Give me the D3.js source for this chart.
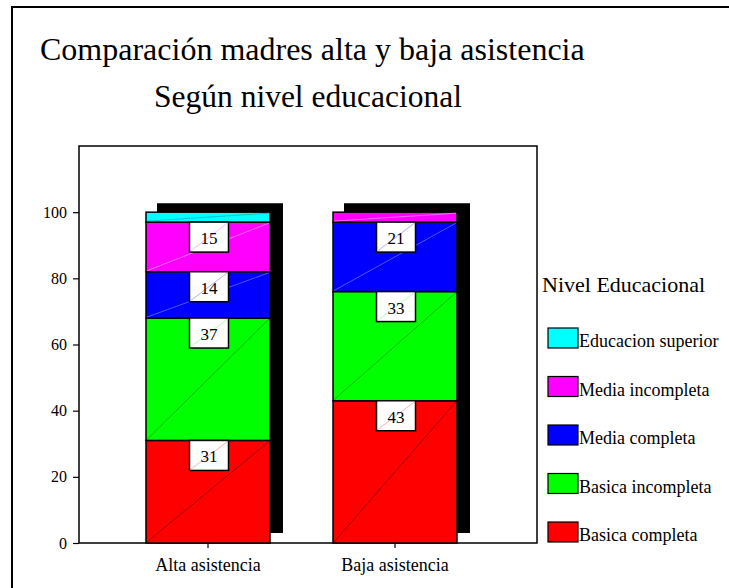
<!DOCTYPE html>
<html>
<head>
<meta charset="utf-8">
<script src="https://cdn.jsdelivr.net/npm/d3@7"></script>
<style>
  html, body { margin: 0; padding: 0; background: #fff; }
  svg { display: block; }
  svg text { font-family: "Liberation Serif", "Times New Roman", serif; fill: #000; }
</style>
</head>
<body>
<svg id="chart" width="729" height="588"></svg>
<script>
// Categories (bars) and education levels (stack order bottom to top)
const groups = ["Alta asistencia", "Baja asistencia"];
const levels = ["Basica completa", "Basica incompleta", "Media completa", "Media incompleta", "Educacion superior"];

// Percentages per level, one value per group
const basicaCompleta    = [31, 43];
const basicaIncompleta  = [37, 33];
const mediaCompleta     = [14, 21];
const mediaIncompleta   = [15, 3];
const educacionSuperior = [3, 0];

const yTicks = [0, 20, 40, 60, 80, 100];

const levelColors = ["#ff0000", "#00ff00", "#0000ff", "#ff00ff", "#00ffff"];
const diagColors  = ["rgba(90,0,0,0.8)", "rgba(0,90,0,0.6)", "rgba(170,170,255,0.7)", "rgba(255,190,255,0.8)", "rgba(0,120,120,0.6)"];

const seriesValues = [basicaCompleta, basicaIncompleta, mediaCompleta, mediaIncompleta, educacionSuperior];

// Build table rows for d3.stack
const rows = groups.map((g, i) => {
  const r = { group: g };
  levels.forEach((lv, j) => { r[lv] = seriesValues[j][i]; });
  return r;
});
const stacked = d3.stack().keys(levels)(rows);

const svg = d3.select("#chart");
const serif = '"Liberation Serif", "Times New Roman", serif';

// Outer frame
svg.append("rect")
  .attr("x", 12).attr("y", 7).attr("width", 800).attr("height", 800)
  .attr("fill", "none").attr("stroke", "#000").attr("stroke-width", 2);

// Titles
svg.append("text")
  .attr("x", 40).attr("y", 60)
  .attr("font-size", 32)
  .text("Comparación madres alta y baja asistencia");
svg.append("text")
  .attr("x", 154).attr("y", 107)
  .attr("font-size", 31.5)
  .text("Según nivel educacional");

// Plot area
const plot = { left: 79, top: 146, right: 537, bottom: 543 };

const y = d3.scaleLinear().domain([0, 120]).range([plot.bottom, plot.top]);
const x = d3.scaleBand().domain(groups).range([114.5, 488.5])
  .paddingInner(0.337).paddingOuter(0.1685);

// Plot frame
svg.append("rect")
  .attr("x", plot.left).attr("y", plot.top)
  .attr("width", plot.right - plot.left).attr("height", plot.bottom - plot.top)
  .attr("fill", "none").attr("stroke", "#000").attr("stroke-width", 1.5);

// Y axis
const yAxis = svg.append("g")
  .attr("transform", `translate(${plot.left},0)`)
  .call(d3.axisLeft(y).tickValues(yTicks).tickSize(6).tickPadding(6));
yAxis.attr("font-family", null);
yAxis.select(".domain").remove();
yAxis.selectAll("line").attr("stroke", "#000").attr("stroke-width", 1.2);
yAxis.selectAll("text")
  .style("font-family", serif)
  .style("font-size", "16px").attr("fill", "#000");

// X axis
const xAxis = svg.append("g")
  .attr("transform", `translate(0,${plot.bottom})`)
  .call(d3.axisBottom(x).tickSize(5).tickPadding(10));
xAxis.attr("font-family", null);
xAxis.select(".domain").remove();
xAxis.selectAll("line").attr("stroke", "#000").attr("stroke-width", 1.2);
xAxis.selectAll("text")
  .style("font-family", serif)
  .style("font-size", "18px").attr("fill", "#000");

// Drop shadows behind the stacked bars
const shDx = 13, shDyTop = -9, shDyBottom = -10;
svg.append("g").selectAll("path")
  .data(groups)
  .join("path")
  .attr("fill", "#000")
  .attr("d", g => {
    const i = groups.indexOf(g);
    const top = y(d3.sum(seriesValues, s => s[i]));
    const x0 = x(g), x1 = x(g) + x.bandwidth();
    return `M${x0 + shDx - 2},${top + shDyTop}L${x1 + shDx},${top + shDyTop}` +
           `L${x1 + shDx},${plot.bottom + shDyBottom}L${x1},${plot.bottom + shDyBottom}` +
           `L${x1},${top}L${x0 + shDx - 2},${top}Z`;
  });

// Stacked segments
const layers = svg.append("g").selectAll("g")
  .data(stacked)
  .join("g");

layers.each(function(layer, li) {
  const segs = layer.filter(d => d[1] - d[0] > 0);
  const g = d3.select(this);
  g.selectAll("rect")
    .data(segs)
    .join("rect")
    .attr("x", d => x(d.data.group))
    .attr("y", d => y(d[1]))
    .attr("width", x.bandwidth())
    .attr("height", d => y(d[0]) - y(d[1]))
    .attr("fill", levelColors[li])
    .attr("stroke", "#000")
    .attr("stroke-width", 1.5);
  g.selectAll("line")
    .data(segs)
    .join("line")
    .attr("x1", d => x(d.data.group) + 1)
    .attr("y1", d => y(d[0]) - 1)
    .attr("x2", d => x(d.data.group) + x.bandwidth() - 1)
    .attr("y2", d => y(d[1]) + 1)
    .attr("stroke", diagColors[li])
    .attr("stroke-width", 0.7);
});

// Value labels in white boxes at the top of each segment
const boxW = 39, boxH = 30;
const labelData = [];
stacked.forEach((layer, li) => {
  layer.forEach(d => {
    const v = d[1] - d[0];
    if (v >= 10) labelData.push({ group: d.data.group, top: d[1], value: v, li });
  });
});
const labels = svg.append("g").selectAll("g")
  .data(labelData)
  .join("g")
  .attr("transform", d => `translate(${x(d.group) + x.bandwidth() / 2},${y(d.top)})`);
labels.append("rect")
  .attr("x", -boxW / 2 + 1).attr("y", 0)
  .attr("width", boxW).attr("height", boxH)
  .attr("fill", "#fff").attr("stroke", "#000").attr("stroke-width", 1.5);
labels.append("line")
  .attr("x1", -boxW / 2 + 2).attr("y1", boxH - 1)
  .attr("x2", boxW / 2).attr("y2", 1)
  .attr("stroke", d => levelColors[d.li])
  .attr("stroke-opacity", 0.45)
  .attr("stroke-width", 0.7);
labels.append("text")
  .attr("x", 1).attr("y", 22)
  .attr("text-anchor", "middle")
  .attr("font-size", 17)
  .text(d => d.value);

// Legend
svg.append("text")
  .attr("x", 542).attr("y", 292)
  .attr("font-size", 22)
  .text("Nivel Educacional");

const legendOrder = levels.slice().reverse();
const legend = svg.append("g").selectAll("g")
  .data(legendOrder)
  .join("g")
  .attr("transform", (d, i) => `translate(548,${328 + i * 48.5})`);
legend.append("rect")
  .attr("width", 30).attr("height", 20)
  .attr("fill", d => levelColors[levels.indexOf(d)])
  .attr("stroke", "#000").attr("stroke-width", 1.2);
legend.append("text")
  .attr("x", 31).attr("y", 19)
  .attr("font-size", 18)
  .text(d => d);
</script>
</body>
</html>
